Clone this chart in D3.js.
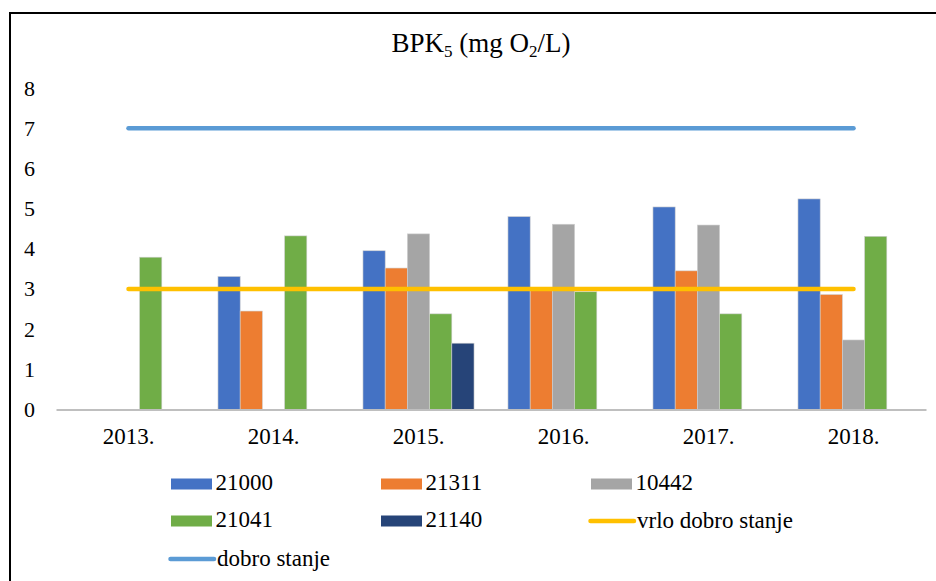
<!DOCTYPE html>
<html>
<head>
<meta charset="utf-8">
<script src="https://cdn.jsdelivr.net/npm/d3@7"></script>
<style>
  html, body { margin: 0; padding: 0; background: #fff; }
  svg { display: block; }
</style>
</head>
<body>
<svg id="chart" width="936" height="581"></svg>
<script>
// ---- data ----
const years = ["2013.", "2014.", "2015.", "2016.", "2017.", "2018."];
const seriesNames = ["21000", "21311", "10442", "21041", "21140"];
const seriesColors = ["#4472C4", "#ED7D31", "#A5A5A5", "#70AD47", "#264478"];
const s21000 = [null, 3.31, 3.95, 4.80, 5.04, 5.24];
const s21311 = [null, 2.45, 3.52, 3.03, 3.45, 2.86];
const s10442 = [null, null, 4.37, 4.61, 4.59, 1.73];
const s21041 = [3.79, 4.32, 2.38, 2.93, 2.38, 4.31];
const s21140 = [null, null, 1.65, null, null, null];
const seriesValues = [s21000, s21311, s10442, s21041, s21140];
const vrloDobro = [3, 3, 3, 3, 3, 3];
const dobro = [7, 7, 7, 7, 7, 7];
const yTicks = [0, 1, 2, 3, 4, 5, 6, 7, 8];

const FONT = '"Liberation Serif"';

// ---- layout ----
const svg = d3.select("#chart");
const plotLeft = 56, plotRight = 926;

svg.append("rect").attr("x", 10).attr("y", 13).attr("width", 1000).attr("height", 1000)
  .attr("fill", "#fff").attr("stroke", "#000").attr("stroke-width", 2);

const y = d3.scaleLinear().domain([0, 8]).range([409.5, 88]);
const x0 = d3.scaleBand().domain(years).range([plotLeft, plotRight]).paddingInner(0).paddingOuter(0);
const bw = x0.bandwidth();
const x1 = d3.scaleBand().domain(seriesNames).range([bw * 0.117, bw * 0.883]).padding(0);

// title
const title = svg.append("text").attr("x", 481).attr("y", 52).attr("text-anchor", "middle")
  .style("font-family", FONT).style("font-size", "27px").attr("fill", "#000");
title.append("tspan").text("BPK");
title.append("tspan").text("5").style("font-size", "17px").attr("dy", 5);
title.append("tspan").text(" (mg O").attr("dy", -5);
title.append("tspan").text("2").style("font-size", "17px").attr("dy", 5);
title.append("tspan").text("/L)").attr("dy", -5);

// y axis (labels only)
const yAxis = d3.axisLeft(y).tickValues(yTicks).tickSize(0).tickPadding(0).tickFormat(d3.format("d"));
const gy = svg.append("g").attr("transform", "translate(35,0)").call(yAxis);
gy.attr("font-family", null).attr("font-size", null);
gy.select(".domain").remove();
gy.selectAll("text").style("font-size", "22px").style("font-family", FONT).attr("fill", "#000");

// bars
const barData = [];
seriesValues.forEach((vals, si) => {
  vals.forEach((v, yi) => {
    if (v !== null) barData.push({ year: years[yi], series: seriesNames[si], value: v, color: seriesColors[si] });
  });
});
svg.append("g").selectAll("rect").data(barData).join("rect")
  .attr("x", d => x0(d.year) + x1(d.series))
  .attr("y", d => y(d.value))
  .attr("width", x1.bandwidth())
  .attr("height", d => y(0) - y(d.value))
  .attr("fill", d => d.color)
  .attr("stroke", "#d0d0d0").attr("stroke-width", 0.6);

// x axis
const xAxis = d3.axisBottom(x0).tickSize(0).tickPadding(0);
const gx = svg.append("g").attr("transform", `translate(0,${y(0)})`).call(xAxis);
gx.attr("font-family", null).attr("font-size", null);
gx.select(".domain").attr("stroke", "#BFBFBF").attr("stroke-width", 2);
gx.selectAll("text").attr("dy", null).attr("y", 34.5).style("font-size", "23px")
  .style("font-family", FONT).attr("fill", "#000");

// lines
const line = d3.line().x((d, i) => x0(years[i]) + bw / 2).y(d => y(d));
svg.append("path").datum(vrloDobro).attr("d", line).attr("fill", "none")
  .attr("stroke", "#FFC000").attr("stroke-width", 4.5).attr("stroke-linecap", "round");
svg.append("path").datum(dobro).attr("d", line).attr("fill", "none")
  .attr("stroke", "#5B9BD5").attr("stroke-width", 4.5).attr("stroke-linecap", "round");

// legend
const legendItems = [
  { name: "21000", color: seriesColors[0], type: "rect" },
  { name: "21311", color: seriesColors[1], type: "rect" },
  { name: "10442", color: seriesColors[2], type: "rect" },
  { name: "21041", color: seriesColors[3], type: "rect" },
  { name: "21140", color: seriesColors[4], type: "rect" },
  { name: "vrlo dobro stanje", color: "#FFC000", type: "line" },
  { name: "dobro stanje", color: "#5B9BD5", type: "line" }
];
const colX = [171, 381, 591];
const rowY = [484, 521, 559];
const lg = svg.append("g");
legendItems.forEach((it, i) => {
  const cx = colX[i % 3], cy = rowY[Math.floor(i / 3)];
  const g = lg.append("g").attr("transform", `translate(${cx},${cy})`);
  if (it.type === "rect") {
    g.append("rect").attr("x", 0).attr("y", -5.5).attr("width", 41).attr("height", 11).attr("fill", it.color);
    g.append("text").attr("x", 44.5).attr("y", 5.5).style("font-family", FONT).style("font-size", "23px")
      .attr("fill", "#000").text(it.name);
  } else {
    g.append("line").attr("x1", -0.5).attr("x2", 43).attr("y1", 0).attr("y2", 0)
      .attr("stroke", it.color).attr("stroke-width", 4.5).attr("stroke-linecap", "round");
    g.append("text").attr("x", 46).attr("y", 7).style("font-family", FONT).style("font-size", "23px")
      .attr("fill", "#000").text(it.name);
  }
});
</script>
</body>
</html>
